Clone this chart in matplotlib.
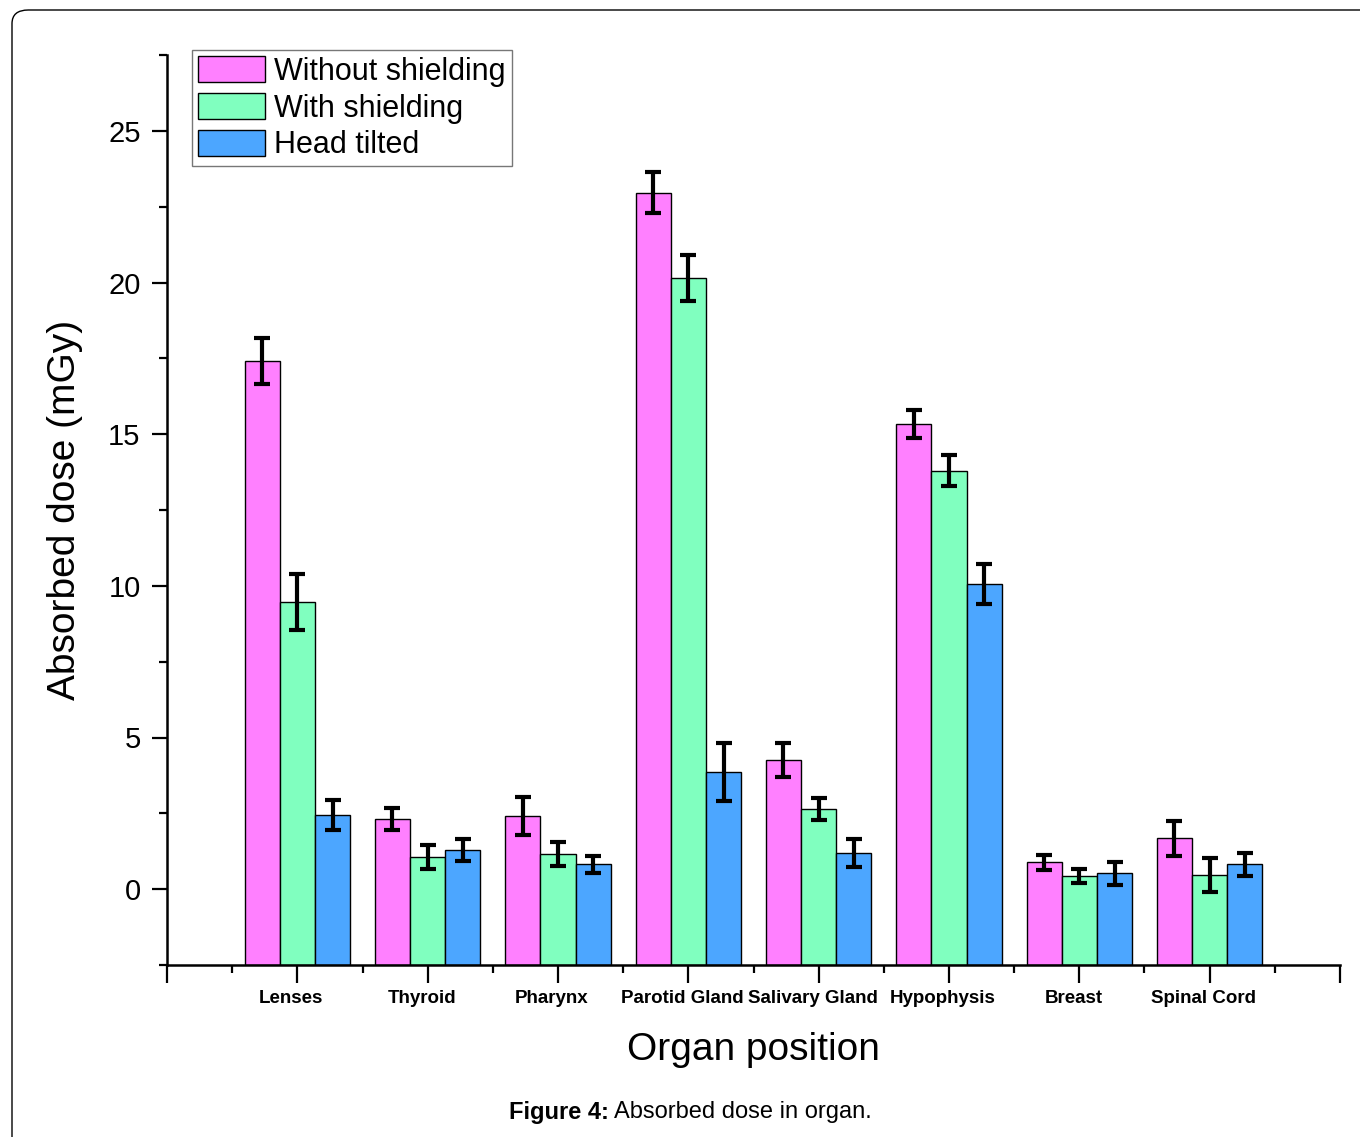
import matplotlib.pyplot as plt
import matplotlib.transforms as mtransforms
import numpy as np
from matplotlib.patches import FancyBboxPatch
from matplotlib.ticker import MultipleLocator, FixedLocator

plt.rcParams['font.family'] = ['Liberation Sans', 'DejaVu Sans']

organs = ['Lenses', 'Thyroid', 'Pharynx', 'Parotid Gland', 'Salivary Gland',
          'Hypophysis', 'Breast', 'Spinal Cord']

without_shielding = [17.41, 2.31, 2.41, 22.96, 4.25, 15.34, 0.89, 1.68]
without_err = [0.77, 0.36, 0.62, 0.68, 0.56, 0.45, 0.25, 0.58]

with_shielding = [9.47, 1.06, 1.15, 20.15, 2.64, 13.79, 0.43, 0.46]
with_err = [0.92, 0.40, 0.40, 0.77, 0.36, 0.51, 0.22, 0.56]

head_tilted = [2.44, 1.29, 0.82, 3.86, 1.19, 10.06, 0.53, 0.82]
tilted_err = [0.50, 0.35, 0.28, 0.96, 0.46, 0.67, 0.38, 0.38]

series = [
    ('Without shielding', without_shielding, without_err, '#FF80FF'),
    ('With shielding', with_shielding, with_err, '#80FFBF'),
    ('Head tilted', head_tilted, tilted_err, '#4CA6FF'),
]

y_floor = -2.5

fig = plt.figure(figsize=(13.6, 11.37), dpi=100)
ax = fig.add_axes([167 / 1360, 1 - 965 / 1137, (1340 - 167) / 1360, (965 - 55) / 1137])

# outer rounded frame
frame = FancyBboxPatch((12 / 1360, -0.02), 1.02, 1 - 10 / 1137 + 0.02,
                       boxstyle="round,pad=0,rounding_size=0.012",
                       transform=fig.transFigure, fill=False,
                       edgecolor='black', linewidth=1.0, clip_on=False)
fig.patches.append(frame)

x = np.arange(len(organs))
width = 0.27
for i, (label, vals, errs, color) in enumerate(series):
    vals = np.array(vals)
    # bars are drawn from the bottom of the axis, as in the original
    ax.bar(x + (i - 1) * width, vals - y_floor, width, bottom=y_floor,
           color=color, edgecolor='black', linewidth=1.0, label=label)
    ax.errorbar(x + (i - 1) * width, vals, yerr=errs, fmt='none',
                ecolor='black', elinewidth=3, capsize=5.5, capthick=3)

ax.set_xlim(-1, 8)
ax.set_ylim(y_floor, 27.5)

ax.spines['top'].set_visible(False)
ax.spines['right'].set_visible(False)
ax.spines['left'].set_linewidth(1.8)
ax.spines['bottom'].set_linewidth(1.8)

ax.yaxis.set_major_locator(MultipleLocator(5))
ax.yaxis.set_minor_locator(FixedLocator(np.arange(-2.5, 28, 5)))
ax.xaxis.set_major_locator(FixedLocator(np.arange(-1, 9)))
ax.xaxis.set_minor_locator(FixedLocator(np.arange(-0.5, 8, 1)))

ax.tick_params(axis='y', which='major', length=11, width=1.6, labelsize=21, pad=8)
ax.tick_params(axis='y', which='minor', length=6, width=1.6)
ax.tick_params(axis='x', which='major', length=13, width=1.6, pad=5)
ax.tick_params(axis='x', which='minor', length=6, width=1.6)

ax.set_xticklabels([''] + organs + [''], fontsize=13.5, fontweight='bold')

# labels sit a little left of their ticks in the original
shift = mtransforms.ScaledTranslation(-6 / 100, 0, fig.dpi_scale_trans)
for lbl in ax.get_xticklabels():
    lbl.set_transform(lbl.get_transform() + shift)

ax.set_ylabel('Absorbed dose (mGy)', fontsize=28, labelpad=18)
ax.set_xlabel('Organ position', fontsize=28, labelpad=18)

leg = ax.legend(loc='upper left', bbox_to_anchor=(0.0213, 1.0055), fontsize=22,
                frameon=True, fancybox=False, edgecolor='#555555',
                handlelength=2.2, handleheight=0.95, handletextpad=0.3,
                labelspacing=0.2, borderpad=0.2, borderaxespad=0.0)
leg.get_frame().set_linewidth(1.0)

fig.text(609 / 1360, 1 - 1112 / 1137, 'Figure 4:', ha='right', va='center',
         fontsize=17, fontweight='bold')
fig.text(614 / 1360, 1 - 1112 / 1137, 'Absorbed dose in organ.', ha='left',
         va='center', fontsize=17)

fig.savefig('out.png', dpi=100)
